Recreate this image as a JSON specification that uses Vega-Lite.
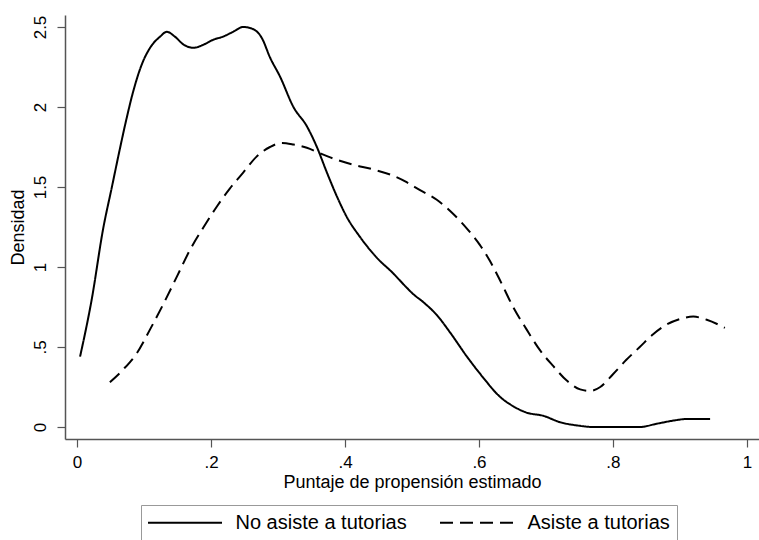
{
  "$schema": "https://vega.github.io/schema/vega-lite/v6.json",
  "autosize": {"type": "none"},
  "padding": {"left": 65, "top": 15, "right": 0, "bottom": 101},
  "width": 694,
  "height": 424,
  "background": "white",
  "config": {
    "view": {"stroke": null},
    "font": "Liberation Sans",
    "axis": {
      "grid": false,
      "domainColor": "#555555",
      "domainWidth": 1.5,
      "tickColor": "#555555",
      "tickWidth": 1.2,
      "tickSize": 8,
      "labelColor": "black",
      "titleColor": "black",
      "labelFont": "Liberation Sans",
      "titleFont": "Liberation Sans",
      "titleFontWeight": "normal",
      "labelFontSize": 17,
      "titleFontSize": 18
    }
  },
  "data": {
    "values": [
      {"grupo": "No asiste a tutorias", "p": 0.0045, "d": 0.44},
      {"grupo": "No asiste a tutorias", "p": 0.022, "d": 0.8},
      {"grupo": "No asiste a tutorias", "p": 0.039, "d": 1.24},
      {"grupo": "No asiste a tutorias", "p": 0.052, "d": 1.5},
      {"grupo": "No asiste a tutorias", "p": 0.064, "d": 1.74},
      {"grupo": "No asiste a tutorias", "p": 0.074, "d": 1.93},
      {"grupo": "No asiste a tutorias", "p": 0.084, "d": 2.1},
      {"grupo": "No asiste a tutorias", "p": 0.097, "d": 2.27},
      {"grupo": "No asiste a tutorias", "p": 0.109, "d": 2.37},
      {"grupo": "No asiste a tutorias", "p": 0.124, "d": 2.44},
      {"grupo": "No asiste a tutorias", "p": 0.134, "d": 2.47},
      {"grupo": "No asiste a tutorias", "p": 0.146, "d": 2.44},
      {"grupo": "No asiste a tutorias", "p": 0.159, "d": 2.39},
      {"grupo": "No asiste a tutorias", "p": 0.174, "d": 2.37},
      {"grupo": "No asiste a tutorias", "p": 0.189, "d": 2.39},
      {"grupo": "No asiste a tutorias", "p": 0.203, "d": 2.42},
      {"grupo": "No asiste a tutorias", "p": 0.218, "d": 2.44},
      {"grupo": "No asiste a tutorias", "p": 0.233, "d": 2.47},
      {"grupo": "No asiste a tutorias", "p": 0.248, "d": 2.5},
      {"grupo": "No asiste a tutorias", "p": 0.261, "d": 2.49},
      {"grupo": "No asiste a tutorias", "p": 0.276, "d": 2.43},
      {"grupo": "No asiste a tutorias", "p": 0.288, "d": 2.31},
      {"grupo": "No asiste a tutorias", "p": 0.303, "d": 2.19},
      {"grupo": "No asiste a tutorias", "p": 0.323, "d": 2.0},
      {"grupo": "No asiste a tutorias", "p": 0.343, "d": 1.88},
      {"grupo": "No asiste a tutorias", "p": 0.358, "d": 1.75},
      {"grupo": "No asiste a tutorias", "p": 0.373, "d": 1.59},
      {"grupo": "No asiste a tutorias", "p": 0.388, "d": 1.44},
      {"grupo": "No asiste a tutorias", "p": 0.403, "d": 1.31},
      {"grupo": "No asiste a tutorias", "p": 0.422, "d": 1.19},
      {"grupo": "No asiste a tutorias", "p": 0.447, "d": 1.06},
      {"grupo": "No asiste a tutorias", "p": 0.472, "d": 0.96},
      {"grupo": "No asiste a tutorias", "p": 0.49, "d": 0.88},
      {"grupo": "No asiste a tutorias", "p": 0.502, "d": 0.83},
      {"grupo": "No asiste a tutorias", "p": 0.517, "d": 0.78},
      {"grupo": "No asiste a tutorias", "p": 0.537, "d": 0.7},
      {"grupo": "No asiste a tutorias", "p": 0.557, "d": 0.59},
      {"grupo": "No asiste a tutorias", "p": 0.582, "d": 0.44},
      {"grupo": "No asiste a tutorias", "p": 0.606, "d": 0.31},
      {"grupo": "No asiste a tutorias", "p": 0.631, "d": 0.19},
      {"grupo": "No asiste a tutorias", "p": 0.651, "d": 0.13},
      {"grupo": "No asiste a tutorias", "p": 0.671, "d": 0.09},
      {"grupo": "No asiste a tutorias", "p": 0.696, "d": 0.07},
      {"grupo": "No asiste a tutorias", "p": 0.721, "d": 0.03},
      {"grupo": "No asiste a tutorias", "p": 0.746, "d": 0.01},
      {"grupo": "No asiste a tutorias", "p": 0.771, "d": 0.0},
      {"grupo": "No asiste a tutorias", "p": 0.805, "d": 0.0},
      {"grupo": "No asiste a tutorias", "p": 0.84, "d": 0.0},
      {"grupo": "No asiste a tutorias", "p": 0.865, "d": 0.02},
      {"grupo": "No asiste a tutorias", "p": 0.89, "d": 0.04},
      {"grupo": "No asiste a tutorias", "p": 0.91, "d": 0.05},
      {"grupo": "No asiste a tutorias", "p": 0.945, "d": 0.05},
      {"grupo": "Asiste a tutorias", "p": 0.049, "d": 0.28},
      {"grupo": "Asiste a tutorias", "p": 0.069, "d": 0.36},
      {"grupo": "Asiste a tutorias", "p": 0.089, "d": 0.46},
      {"grupo": "Asiste a tutorias", "p": 0.109, "d": 0.61},
      {"grupo": "Asiste a tutorias", "p": 0.129, "d": 0.77},
      {"grupo": "Asiste a tutorias", "p": 0.149, "d": 0.94},
      {"grupo": "Asiste a tutorias", "p": 0.169, "d": 1.11},
      {"grupo": "Asiste a tutorias", "p": 0.189, "d": 1.25},
      {"grupo": "Asiste a tutorias", "p": 0.209, "d": 1.38},
      {"grupo": "Asiste a tutorias", "p": 0.228, "d": 1.49},
      {"grupo": "Asiste a tutorias", "p": 0.248, "d": 1.59},
      {"grupo": "Asiste a tutorias", "p": 0.268, "d": 1.69},
      {"grupo": "Asiste a tutorias", "p": 0.288, "d": 1.75},
      {"grupo": "Asiste a tutorias", "p": 0.305, "d": 1.775},
      {"grupo": "Asiste a tutorias", "p": 0.323, "d": 1.765},
      {"grupo": "Asiste a tutorias", "p": 0.343, "d": 1.745},
      {"grupo": "Asiste a tutorias", "p": 0.363, "d": 1.71},
      {"grupo": "Asiste a tutorias", "p": 0.388, "d": 1.67},
      {"grupo": "Asiste a tutorias", "p": 0.412, "d": 1.64},
      {"grupo": "Asiste a tutorias", "p": 0.442, "d": 1.61},
      {"grupo": "Asiste a tutorias", "p": 0.472, "d": 1.57},
      {"grupo": "Asiste a tutorias", "p": 0.492, "d": 1.53},
      {"grupo": "Asiste a tutorias", "p": 0.512, "d": 1.48},
      {"grupo": "Asiste a tutorias", "p": 0.537, "d": 1.42},
      {"grupo": "Asiste a tutorias", "p": 0.557, "d": 1.35},
      {"grupo": "Asiste a tutorias", "p": 0.582, "d": 1.24},
      {"grupo": "Asiste a tutorias", "p": 0.601, "d": 1.14},
      {"grupo": "Asiste a tutorias", "p": 0.616, "d": 1.04},
      {"grupo": "Asiste a tutorias", "p": 0.631, "d": 0.92},
      {"grupo": "Asiste a tutorias", "p": 0.651, "d": 0.75},
      {"grupo": "Asiste a tutorias", "p": 0.671, "d": 0.61},
      {"grupo": "Asiste a tutorias", "p": 0.691, "d": 0.48},
      {"grupo": "Asiste a tutorias", "p": 0.711, "d": 0.38},
      {"grupo": "Asiste a tutorias", "p": 0.731, "d": 0.29},
      {"grupo": "Asiste a tutorias", "p": 0.751, "d": 0.235},
      {"grupo": "Asiste a tutorias", "p": 0.766, "d": 0.225},
      {"grupo": "Asiste a tutorias", "p": 0.781, "d": 0.25},
      {"grupo": "Asiste a tutorias", "p": 0.8, "d": 0.33},
      {"grupo": "Asiste a tutorias", "p": 0.82, "d": 0.42},
      {"grupo": "Asiste a tutorias", "p": 0.84, "d": 0.5},
      {"grupo": "Asiste a tutorias", "p": 0.86, "d": 0.58},
      {"grupo": "Asiste a tutorias", "p": 0.88, "d": 0.64},
      {"grupo": "Asiste a tutorias", "p": 0.9, "d": 0.675},
      {"grupo": "Asiste a tutorias", "p": 0.92, "d": 0.69},
      {"grupo": "Asiste a tutorias", "p": 0.94, "d": 0.67},
      {"grupo": "Asiste a tutorias", "p": 0.967, "d": 0.62}
    ]
  },
  "mark": {"type": "line", "color": "black", "strokeWidth": 2, "interpolate": "monotone"},
  "encoding": {
    "x": {
      "field": "p",
      "type": "quantitative",
      "scale": {"domain": [-0.018, 1.018], "nice": false, "zero": false},
      "axis": {
        "title": "Puntaje de propensión estimado",
        "values": [0, 0.2, 0.4, 0.6, 0.8, 1],
        "labelExpr": "datum.value > 0 && datum.value < 1 ? slice(toString(datum.value), 1) : toString(datum.value)",
        "labelPadding": 7,
        "titlePadding": 3,
        "labelFlush": false
      }
    },
    "y": {
      "field": "d",
      "type": "quantitative",
      "scale": {"domain": [-0.075, 2.575], "nice": false, "zero": false},
      "axis": {
        "title": "Densidad",
        "values": [0, 0.5, 1, 1.5, 2, 2.5],
        "labelExpr": "datum.value > 0 && datum.value < 1 ? slice(toString(datum.value), 1) : toString(datum.value)",
        "labelAngle": -90,
        "labelAlign": "center",
        "labelBaseline": "bottom",
        "labelPadding": 8,
        "titlePadding": 4,
        "labelFlush": false
      }
    },
    "strokeDash": {
      "field": "grupo",
      "type": "nominal",
      "scale": {"domain": ["No asiste a tutorias", "Asiste a tutorias"], "range": [[1, 0], [13, 7]]},
      "legend": {
        "title": null,
        "orient": "none",
        "legendX": 76,
        "legendY": 490,
        "direction": "horizontal",
        "symbolType": "M-4,0L4,0",
        "symbolSize": 342.25,
        "symbolOffset": 26.5,
        "symbolStrokeWidth": 2,
        "symbolStrokeColor": "black",
        "symbolFillColor": "transparent",
        "labelFontSize": 20,
        "labelFont": "Liberation Sans",
        "labelColor": "black",
        "labelLimit": 400,
        "labelOffset": 40,
        "columnPadding": 29,
        "padding": 7,
        "strokeColor": "#999999",
        "fillColor": "white"
      }
    }
  }
}
